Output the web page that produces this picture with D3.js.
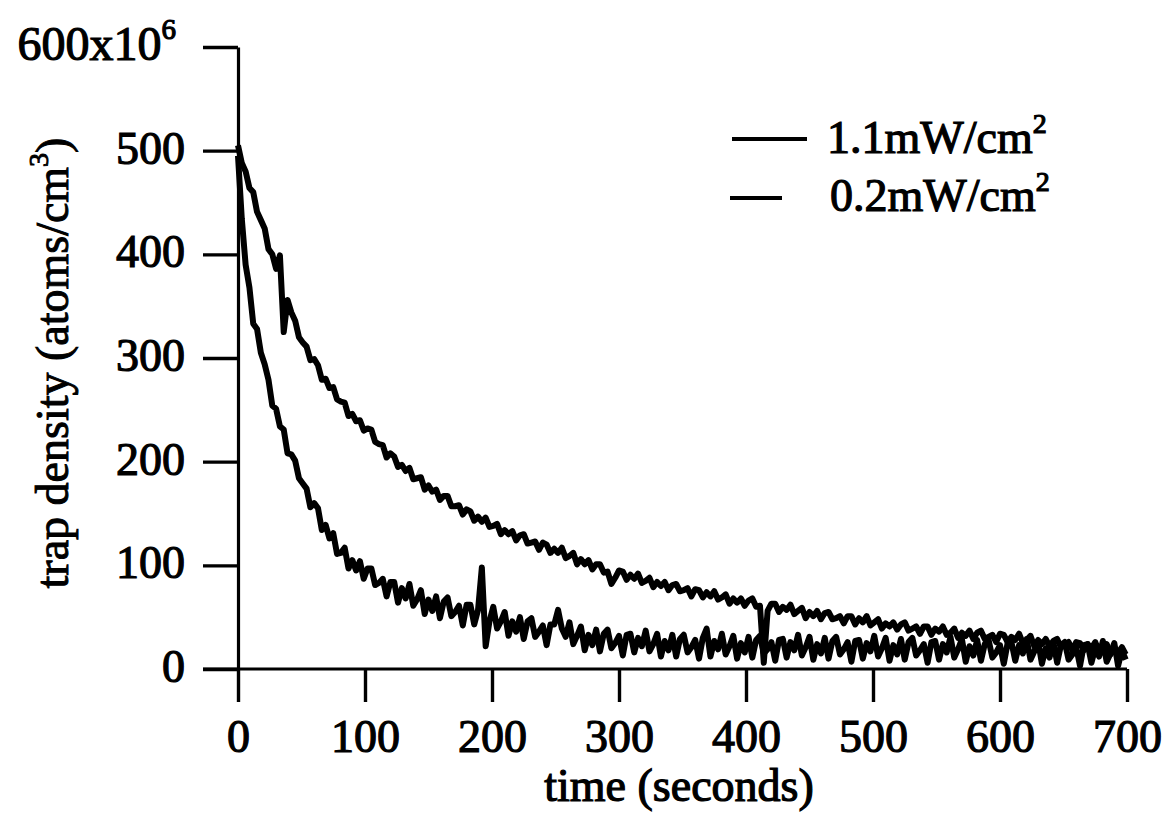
<!DOCTYPE html>
<html>
<head>
<meta charset="utf-8">
<script src="https://cdn.jsdelivr.net/npm/d3@7"></script>
<style>
  html, body { margin: 0; padding: 0; background: #fff; }
  svg { display: block; }
  text { font-family: "Liberation Serif", "Times New Roman", serif; fill: #000; }
</style>
</head>
<body>
<svg id="chart" width="1168" height="814"></svg>
<script>
// ---- data ----
const timeStep = 3; // seconds between samples
const seriesNames = ["1.1mW/cm", "0.2mW/cm"];
const xTicks = [0, 100, 200, 300, 400, 500, 600, 700];
const yTicks = [0, 100, 200, 300, 400, 500, 600];

// 1.1 mW/cm^2
const high = [
505,488,480,464,460,441,433,425,405,400,
386,399,325,356,344,336,320,315,311,298,
299,293,279,280,271,272,260,258,257,244,
246,239,240,230,232,231,219,217,216,204,
208,205,195,197,191,194,183,184,185,173,
177,171,173,163,167,167,157,157,158,149,
154,152,143,147,142,146,137,138,140,130,
134,130,133,124,129,130,121,122,123,115,
122,120,112,116,112,117,107,109,112,101,
106,101,105,96,101,101,93,94,82,88,
95,94,86,91,87,92,83,85,88,79,
84,80,84,76,81,82,75,76,78,70,
77,76,69,74,70,75,67,69,72,63,
68,64,68,61,66,68,60,61,6,56,
63,63,55,60,57,62,53,56,59,49,
55,51,56,48,54,55,48,49,51,44,
51,51,43,49,45,51,42,45,48,39,
44,41,45,38,43,45,37,39,41,34,
41,41,33,39,36,41,33,35,39,30,
35,32,37,29,35,37,29,31,33,26,
34,33,26,31,28,34,25,28,32,22,
28,24,29,22,27,29,21,23,26,18,
26,25,18,24,20,26,17,20,24,14,
20,16,21,14
];

// 0.2 mW/cm^2
const low = [
495,434,390,368,333,328,305,294,279,254,
251,234,231,208,207,201,184,179,174,156,
160,155,134,139,126,131,111,112,117,97,
105,95,104,87,97,97,81,83,87,70,
84,84,64,78,68,82,61,67,76,53,
67,56,70,49,65,69,51,55,61,42,
62,62,43,57,98,22,46,60,39,46,
55,32,46,36,50,29,46,49,31,36,
42,23,43,43,57,39,31,45,24,32,
41,18,33,23,38,17,34,38,20,25,
32,13,33,34,16,30,22,37,17,24,
34,12,27,18,33,12,29,33,16,21,
28,10,30,39,12,27,19,34,14,22,
32,10,25,16,31,11,28,32,15,19,
26,8,28,29,11,26,18,33,13,21,
31,9,24,15,30,10,27,31,14,19,
26,7,27,28,10,25,17,32,12,20,
30,8,23,14,29,9,26,30,13,18,
24,6,26,27,9,24,16,31,11,19,
29,7,22,13,28,8,24,28,11,16,
23,5,25,26,8,23,15,29,9,17,
27,5,20,11,26,6,23,26,9,14,
21,3,23,24,6,20,12,27,7,15,
25,3,18,9
];

// ---- layout ----
const svg = d3.select("#chart");
const x = d3.scaleLinear().domain([0, 700]).range([238, 1127]);
const y = d3.scaleLinear().domain([0, 600]).range([669, 47]);
const FS = 46;
const TS = 1.2; // text outline to mimic the heavy print

const line = d3.line()
  .x((d, i) => x(i * timeStep))
  .y(d => y(d));

// data lines
[high, low].forEach(s => {
  svg.append("path")
    .datum(s)
    .attr("d", line)
    .attr("fill", "none")
    .attr("stroke", "#000")
    .attr("stroke-width", 6)
    .attr("stroke-linejoin", "round");
});

// y axis
const yAxis = d3.axisLeft(y)
  .tickValues(yTicks)
  .tickSize(35)
  .tickSizeOuter(0)
  .tickPadding(18)
  .tickFormat(d => d === 600 ? "" : d);
const gy = svg.append("g").attr("transform", "translate(238,0)").call(yAxis);
gy.select(".domain").attr("stroke-width", 3.2);
gy.selectAll(".tick line").attr("stroke-width", 3.4);
gy.selectAll(".tick text")
  .attr("font-size", FS)
  .attr("dy", "0.27em")
  .style("font-family", '"Liberation Serif", serif')
  .attr("stroke", "#000").attr("stroke-width", TS);

// top label with exponent
const topLbl = svg.append("text")
  .attr("x", 176).attr("y", y(600) + 13)
  .attr("text-anchor", "end")
  .attr("font-size", 48)
  .attr("stroke", "#000").attr("stroke-width", TS);
topLbl.append("tspan").text("600x10");
topLbl.append("tspan").attr("font-size", 29).attr("dy", -21).text("6");

// x axis
const xAxis = d3.axisBottom(x)
  .tickValues(xTicks)
  .tickSize(33)
  .tickSizeOuter(0)
  .tickPadding(17);
const gx = svg.append("g").attr("transform", "translate(0,669)").call(xAxis);
gx.select(".domain").attr("stroke-width", 3.2)
  .attr("d", `M${x(0) - 35},0H${x(700)}`);
gx.selectAll(".tick line").attr("stroke-width", 3.4);
gx.selectAll(".tick text")
  .attr("font-size", FS)
  .style("font-family", '"Liberation Serif", serif')
  .attr("stroke", "#000").attr("stroke-width", TS);

// axis titles
svg.append("text")
  .attr("x", 679).attr("y", 801)
  .attr("text-anchor", "middle")
  .attr("font-size", FS)
  .attr("stroke", "#000").attr("stroke-width", TS)
  .text("time (seconds)");

const yt = svg.append("text")
  .attr("transform", "translate(68,363) rotate(-90)")
  .attr("text-anchor", "middle")
  .attr("font-size", FS)
  .attr("stroke", "#000").attr("stroke-width", TS * 0.8);
yt.append("tspan").text("trap density (atoms/cm");
yt.append("tspan").attr("font-size", 28).attr("dy", -20).text("3");
yt.append("tspan").attr("dy", 20).text(")");

// legend
const legend = [
  { name: seriesNames[0], x1: 732, x2: 807, ly: 139, tx: 827, ty: 153 },
  { name: seriesNames[1], x1: 730, x2: 782, ly: 198, tx: 830, ty: 211 }
];
legend.forEach(l => {
  svg.append("line")
    .attr("x1", l.x1).attr("x2", l.x2)
    .attr("y1", l.ly).attr("y2", l.ly)
    .attr("stroke", "#000").attr("stroke-width", 3.8);
  const t = svg.append("text")
    .attr("x", l.tx).attr("y", l.ty)
    .attr("font-size", FS)
    .attr("stroke", "#000").attr("stroke-width", TS);
  t.append("tspan").text(l.name);
  t.append("tspan").attr("font-size", 28).attr("dy", -20).text("2");
});
</script>
</body>
</html>
